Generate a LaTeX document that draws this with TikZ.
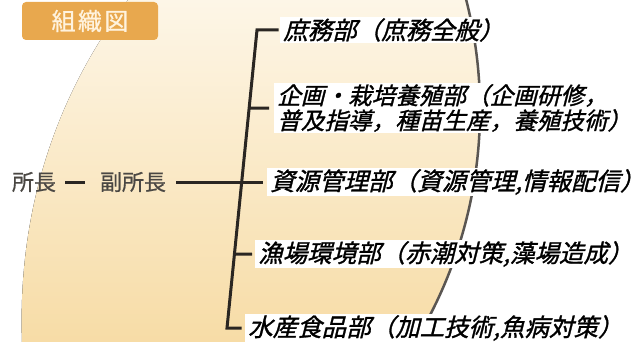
\documentclass[tikz,border=0pt]{standalone}
\usepackage{fontspec}
\usepackage{tikz}
\usetikzlibrary{calc}
\usetikzlibrary{positioning}
\newfontfamily\jpfont[FakeBold=0.6]{Noto Sans CJK JP}
\newfontfamily\jpslant[FakeSlant=0.25, FakeBold=1.2]{Noto Sans CJK JP}
\newfontfamily\jptitle[LetterSpace=10, FakeBold=0.8]{Noto Sans CJK JP}
\definecolor{eggtop}{HTML}{FDF6E7}
\definecolor{eggbot}{HTML}{F7DCA6}
\definecolor{rim}{HTML}{5A5652}
\definecolor{tag}{HTML}{E8A84E}
\definecolor{tagtext}{HTML}{FFF3DE}
\definecolor{ink}{HTML}{2A2622}
\tikzset{dept/.style = {anchor=west, fill=white, inner xsep=3pt, inner ysep=1pt,
                        align=left, font=\jpslant\fontsize{24.5}{25.5}\selectfont}}
\tikzset{boss/.style = {text=ink!85, inner sep=0pt,
                        font=\jpfont\fontsize{22}{24}\selectfont}}
\tikzset{link/.style = {draw=ink, line width=3pt}}

\begin{document}
\begin{tikzpicture}[x=1pt, y=-1pt]
      \useasboundingbox (0, 0) rectangle (642, 342);
      % background
      \fill [top color=eggtop, bottom color=eggbot]
            (466.2, -0.2) arc [start angle=-14.3, end angle=31.3, radius=446]
            -- (22, 342) .. controls (18, 230) and (45, 110) .. (128, 0) -- cycle;
      \draw [rim, line width=2.5pt]
            (466.2, -0.2) arc [start angle=-14.3, end angle=31.3, radius=446];

      \node [fill=tag, rounded corners=4pt, minimum width=136, minimum height=38,
             text=tagtext, font=\jptitle\fontsize{24}{26}\selectfont]
            (title) at (90, 21) {組織図};

      \node [boss] (chief) at (34, 182) {所長};
      \node [boss] (vice) at (133, 182) {副所長};

      \node [dept] (d1) at (280, 30) {庶務部（庶務全般）};
      \node [dept, font=\jpslant\fontsize{23.6}{25}\selectfont]
            (d2) at (274, 108) {企画・栽培養殖部（企画研修，\\普及指導，種苗生産，養殖技術）};
      \node [dept] (d3) at (267, 182) {資源管理部（資源管理,情報配信）};
      \node [dept] (d4) at (255, 254) {漁場環境部（赤潮対策,藻場造成）};
      \node [dept] (d5) at (245, 328) {水産食品部（加工技術,魚病対策）};

      \coordinate (top) at (257, 30);
      \coordinate (bot) at (227, 328);

      \draw [link, shorten <=9pt, shorten >=15pt] (chief.east) -- (vice.west);
      \draw [link, shorten <=10pt, shorten >=4pt] (vice.east) -- (d3.west);
      \draw [link, line cap=rect] (d1.west) ++(-3, 0) -- (top) -- (bot) -- ($(d5.west)+(-5, 0)$);
      \draw [link, shorten >=5pt] ($(top)!0.262!(bot)$) -- (d2.west);
      \draw [link, shorten >=3pt] ($(top)!0.752!(bot)$) -- (d4.west);
    \end{tikzpicture}
\end{document}
